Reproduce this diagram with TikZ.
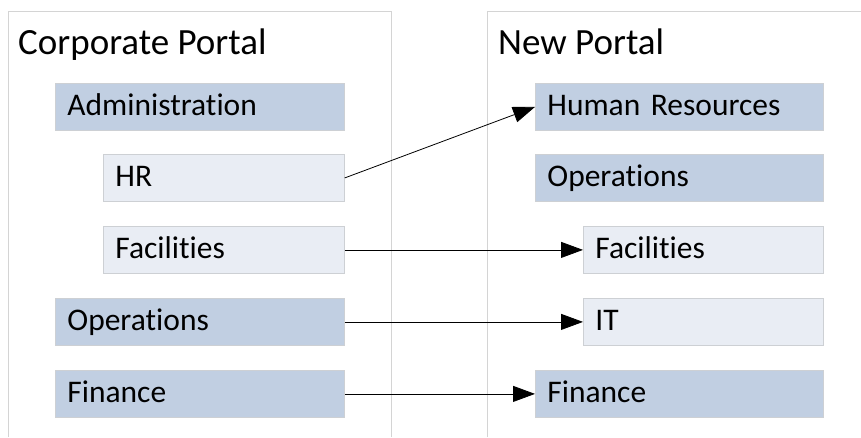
\documentclass[tikz,border=0pt]{standalone}
\usepackage{fontspec}
\setmainfont[Ligatures={NoCommon}]{Carlito}
\usetikzlibrary{arrows.meta}
\definecolor{darkfill}{RGB}{193,207,226}
\definecolor{lightfill}{RGB}{233,237,244}
\definecolor{boxline}{RGB}{205,208,212}
\definecolor{panelline}{RGB}{212,212,212}
\tikzset{
  itembox/.style={draw=boxline, line width=0.8pt, anchor=north west, inner xsep=12pt, inner ysep=0pt,
    minimum height=47pt, text height=22pt, text depth=4pt, align=left, font=\fontsize{31.5}{36}\selectfont},
  darkbox/.style={itembox, fill=darkfill},
  lightbox/.style={itembox, fill=lightfill},
  title/.style={anchor=base west, inner sep=0pt, font=\fontsize{37}{43}\selectfont},
  panel/.style={draw=panelline, line width=1pt},
  conn/.style={draw=black, line width=0.8pt, -{Triangle[length=22pt,width=16pt]}}
}
\begin{document}
\begin{tikzpicture}[x=1pt,y=-1pt]
\useasboundingbox (0,0) rectangle (861,437);
% panels
\draw[panel] (8,437) -- (8,11) -- (391,11) -- (391,437);
\draw[panel] (487,437) -- (487,11) -- (861,11);
\node[title] (t1) at (18,54) {Corporate Portal};
\node[title] (t2) at (498,54) {New Portal};
% left boxes
\node[darkbox, text width=265pt] (adm) at (55,83) {Administration};
\node[lightbox, text width=217pt] (hr) at (103,154) {HR};
\node[lightbox, text width=217pt] (fac) at (103,226) {Facilities};
\node[darkbox, text width=265pt] (ops) at (55,298) {Operations};
\node[darkbox, text width=265pt] (fin) at (55,370) {Finance};
% right boxes
\node[darkbox, text width=264pt] (hum) at (535,83) {Human Resources};
\node[darkbox, text width=264pt] (ops2) at (535,154) {Operations};
\node[lightbox, text width=216pt] (fac2) at (583,226) {Facilities};
\node[lightbox, text width=216pt] (it) at (583,298) {IT};
\node[darkbox, text width=264pt] (fin2) at (535,370) {Finance};
% connectors
\draw[conn] (hr.east) -- (hum.west);
\draw[conn] (fac.east) -- (fac2.west);
\draw[conn] (ops.east) -- (it.west);
\draw[conn] (fin.east) -- (fin2.west);
\end{tikzpicture}
\end{document}
